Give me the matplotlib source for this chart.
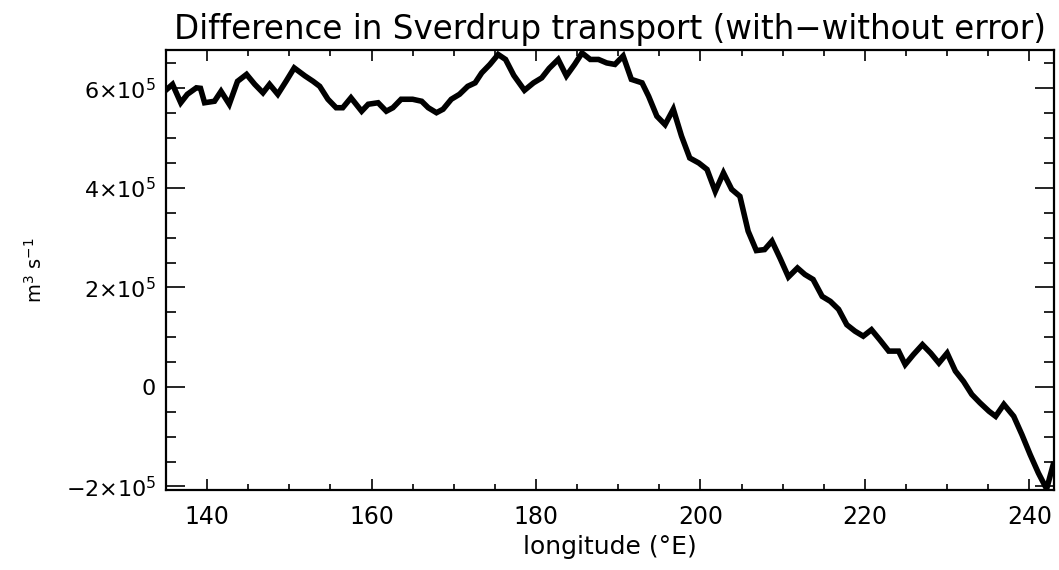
import numpy as np
import matplotlib
matplotlib.use("Agg")
import matplotlib.pyplot as plt
from matplotlib.ticker import MultipleLocator, FuncFormatter

# values (longitude in deg E, transport in 1e5 m^3/s)
lon = [134.9, 135.8, 136.8, 137.6, 138.7, 139.2, 139.7, 140.9, 141.7, 142.7,
       143.7, 144.8, 145.8, 146.8, 147.6, 148.6, 149.6, 150.6, 151.9, 152.9,
       153.7, 154.7, 155.7, 156.5, 157.5, 158.8, 159.6, 160.8, 161.8, 162.6,
       163.6, 165.0, 166.1, 166.9, 167.9, 168.7, 169.7, 170.7, 171.7, 172.6,
       173.4, 174.4, 175.4, 176.3, 177.3, 178.6, 179.7, 180.7, 181.6, 182.7,
       183.7, 184.7, 185.6, 186.6, 187.6, 188.6, 189.6, 190.6, 191.6, 192.9,
       193.7, 194.7, 195.7, 196.7, 197.7, 198.7, 199.8, 200.8, 201.8, 202.8,
       203.8, 204.8, 205.8, 206.8, 207.8, 208.7, 209.7, 210.7, 211.8, 212.7,
       213.7, 214.8, 215.8, 216.8, 217.8, 218.8, 219.8, 220.8, 221.8, 222.9,
       224.1, 224.9, 225.9, 227.0, 228.0, 229.0, 230.0, 231.0, 232.0, 233.0,
       234.0, 235.1, 235.9, 236.9, 238.1, 239.1, 240.1, 241.1, 242.1, 242.9]
dsv = [5.95, 6.08, 5.71, 5.88, 6.01, 6.00, 5.71, 5.74, 5.94, 5.68,
       6.14, 6.28, 6.08, 5.91, 6.08, 5.88, 6.14, 6.41, 6.25, 6.14,
       6.04, 5.78, 5.61, 5.61, 5.81, 5.54, 5.68, 5.71, 5.54, 5.61,
       5.78, 5.78, 5.74, 5.61, 5.51, 5.58, 5.78, 5.88, 6.04, 6.11,
       6.31, 6.48, 6.68, 6.58, 6.26, 5.96, 6.11, 6.21, 6.40, 6.58,
       6.25, 6.48, 6.71, 6.58, 6.58, 6.51, 6.48, 6.65, 6.18, 6.11,
       5.84, 5.44, 5.27, 5.58, 5.04, 4.60, 4.50, 4.37, 3.93, 4.30,
       3.97, 3.83, 3.13, 2.74, 2.76, 2.93, 2.58, 2.21, 2.39, 2.26,
       2.16, 1.82, 1.72, 1.56, 1.25, 1.12, 1.02, 1.15, 0.95, 0.72,
       0.72, 0.45, 0.65, 0.85, 0.68, 0.48, 0.68, 0.32, 0.11, -0.15,
       -0.32, -0.49, -0.59, -0.35, -0.59, -0.96, -1.36, -1.73, -2.05, -1.56]

lon = np.array(lon)
dsv = np.array(dsv) * 1e5

plt.rcParams['font.family'] = ['DejaVu Sans']
plt.rcParams['mathtext.fontset'] = 'dejavusans'

fig = plt.figure(figsize=(10.59, 5.70), dpi=100)
ax = fig.add_axes([0.1567, 0.1404, 0.8386, 0.7719])

ax.plot(lon, dsv, color='black', lw=4, solid_joinstyle='miter')

ax.set_xlim(135, 243)
ax.set_ylim(-2.07e5, 6.77e5)

ax.xaxis.set_major_locator(MultipleLocator(20))
ax.xaxis.set_minor_locator(MultipleLocator(5))
ax.yaxis.set_major_locator(MultipleLocator(2e5))
ax.yaxis.set_minor_locator(MultipleLocator(0.5e5))

def yfmt(v, pos):
    n = round(v / 1e5)
    if n == 0:
        return '0'
    sign = '\u2212' if n < 0 else ''
    return sign + '%d\u00d710$^{5}$' % abs(n)

ax.yaxis.set_major_formatter(FuncFormatter(yfmt))

ax.tick_params(axis='x', which='major', direction='in', length=8, width=1.2,
               top=True, labelsize=17, pad=11)
ax.tick_params(axis='x', which='minor', direction='in', length=4.5, width=1.2,
               top=True)
ax.tick_params(axis='y', which='major', direction='in', length=14, width=1.2,
               right=True, labelsize=16, pad=7)
ax.tick_params(axis='y', which='minor', direction='in', length=7, width=1.2,
               right=True)
for s in ax.spines.values():
    s.set_linewidth(1.6)

ax.set_title('Difference in Sverdrup transport (with\u2212without error)',
             fontsize=23.5, pad=8)
ax.set_xlabel('longitude (\u00b0E)', fontsize=18, labelpad=4)
ax.set_ylabel(r'm$^3$ s$^{-1}$', fontsize=14, labelpad=14)

fig.savefig('out.png', dpi=100)
